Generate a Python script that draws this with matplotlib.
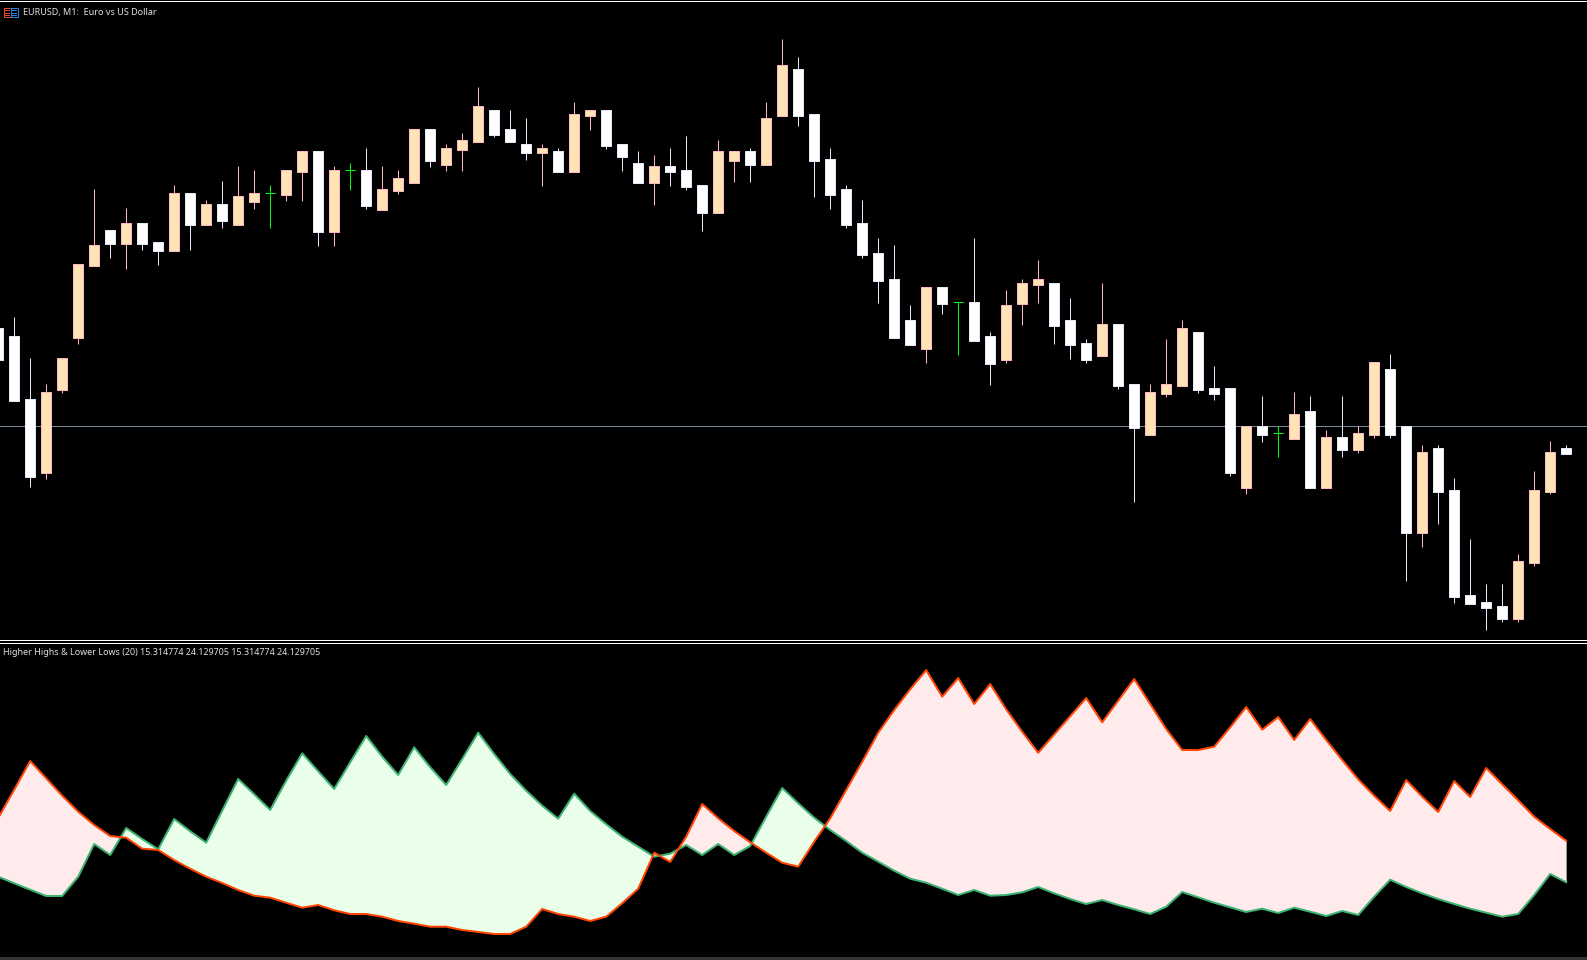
import numpy as np
import matplotlib
matplotlib.use("Agg")
import matplotlib.pyplot as plt
from matplotlib.patches import Rectangle

# candles (price axis has no labels, so units are picture rows)
opens = [328,336,399,473,390,338,266,230,244,223,
         242,251,193,225,204,225,202,193,195,172,
         151,232,170,170,210,191,183,129,165,150,
         142,110,129,144,153,151,172,116,110,144,
         163,183,166,170,185,213,161,151,165,116,
         69,114,159,189,223,253,279,320,349,287,
         302,302,336,360,304,285,283,320,343,356,
         324,384,435,394,386,332,388,388,488,426,
         433,439,411,488,437,450,435,369,426,533,
         448,490,595,602,606,619,563,492,448]
highs = [328,317,358,384,358,264,189,230,208,223,
         242,185,193,200,181,166,170,185,170,151,
         151,166,163,148,166,170,129,129,144,133,
         87,110,110,118,144,148,102,110,110,144,
         151,155,148,136,185,140,151,148,102,39,
         57,114,148,185,200,238,245,305,287,287,
         302,238,332,290,279,260,283,298,339,283,
         324,384,384,339,320,332,366,388,426,396,
         426,392,396,430,396,426,362,354,426,445,
         445,478,539,584,584,554,471,441,445]
lows = [360,401,487,479,393,344,266,258,269,250,
        265,251,250,225,228,225,209,228,201,201,
        246,246,190,209,210,194,183,167,171,171,
        142,137,142,160,186,172,172,130,149,171,
        183,205,186,190,231,213,182,182,165,116,
        126,197,209,228,258,303,338,345,363,314,
        355,341,385,363,325,303,344,359,363,356,
        389,502,435,397,386,393,400,476,494,442,
        457,439,488,488,457,453,438,438,581,547,
        524,603,604,630,622,622,566,494,454]
closes = [360,401,477,392,358,264,245,244,223,244,
          251,193,225,204,221,196,193,193,170,151,
          232,170,170,206,189,178,129,161,148,140,
          106,135,142,153,148,172,114,110,146,157,
          183,166,172,187,213,151,151,165,118,65,
          116,161,195,225,255,281,338,345,287,304,
          302,341,364,305,283,279,326,345,360,324,
          386,428,392,384,328,390,394,473,426,435,
          433,414,488,437,450,433,362,435,533,452,
          492,597,604,608,619,561,490,452,454]

# indicator lines
orange_line = [818,789.7,761,778.3,795.7,811.7,825,836,837.7,848.7,
               850,860,868.7,876.7,883,890,895.7,897.7,902.7,907.7,
               905,910.3,914,914,916.7,921,923.7,926.7,926.7,930,
               932,934,934,926.7,909,914,916.7,921,916.7,903.3,
               888.7,852.7,862,836.7,804,818.3,831,842.3,852.7,862.7,
               866.7,841.7,818.3,790,761.7,732.7,710,689.3,670,696.7,
               678,704,684,709.3,731.7,752.7,734.5,716.2,698,722.3,
               700.7,679,704,729,750,750,746.7,727.3,707,729.7,
               717,740,719,740,760,779.3,795.7,811,780,796.7,
               812,781,797,768,784.3,800.3,816.7,829,840.7]
green_line = [876.7,883.3,889.7,896,896,876.7,844,855,828,839,
              849.3,819,831.3,842.7,810.7,779,794.3,810,780.7,753.3,
              771.3,789,762.3,736,756.7,775,747.3,767.3,785,759,
              732.7,754,774,790.7,805.7,818.7,793.7,811,824.3,836.7,
              846.7,856.7,853.7,845,855,844,855,846,816.7,788,
              803.3,817.7,830,841,852.7,861.7,870.7,878.7,882.7,888.7,
              895,890,895.7,895,892.3,887,893.3,899,904,900,
              905,909.3,914,906.7,892,897.3,902.7,907.3,912,908.7,
              913,907.7,911.7,916,911,915,896.7,879.7,887,893.3,
              899,904,908.7,912.7,916.7,914,895,874,882.3]

current_price = 426
title_main = "EURUSD, M1:  Euro vs US Dollar"
title_ind = "Higher Highs & Lower Lows (20) 15.314774 24.129705 15.314774 24.129705"

W, H = 1587, 960
PX = 72 / 100  # one pixel in points

plt.rcParams['font.family'] = ['Noto Sans', 'DejaVu Sans']
fig = plt.figure(figsize=(W / 100, H / 100), dpi=100, facecolor="black")


def make_axes(top, bottom):
    ax = fig.add_axes([0, 1 - bottom / H, 1, (bottom - top) / H])
    ax.set_facecolor("black")
    ax.set_xlim(1.8 / 16, (W + 1.8) / 16)
    ax.set_ylim(bottom, top)
    ax.axis("off")
    return ax


ax1 = make_axes(2, 640)
ax2 = make_axes(643, 957)

idx = np.arange(len(opens))
o = np.array(opens)
h = np.array(highs)
l = np.array(lows)
c = np.array(closes)

# price line sits behind the candles
ax1.axhline(current_price, color="#778899", lw=PX, zorder=1)

up = c < o  # rows count downwards
down = c > o
doji = c == o

ax1.vlines(idx[up], h[up], l[up], color="#FFB6C1", lw=PX, zorder=2)
ax1.vlines(idx[down], h[down], l[down], color="#E6E6FA", lw=PX, zorder=2)
ax1.vlines(idx[doji], h[doji], l[doji], color="#00FF00", lw=PX, zorder=2)
ax1.hlines(o[doji], idx[doji] - 0.33, idx[doji] + 0.33, color="#00FF00", lw=PX, zorder=2)
ax1.bar(idx[up], (o - c)[up], bottom=c[up], width=0.65, color="#FFE4B5",
        edgecolor="#FFB6C1", lw=PX, zorder=3)
ax1.bar(idx[down], (c - o)[down], bottom=o[down], width=0.65, color="white",
        edgecolor="#E6E6FA", lw=PX, zorder=3)

ora = np.array(orange_line)
gre = np.array(green_line)
ax2.fill_between(idx, ora, gre, where=ora <= gre, interpolate=True, color="#FFEBEB", lw=0, zorder=1)
ax2.fill_between(idx, ora, gre, where=ora >= gre, interpolate=True, color="#EAFFEA", lw=0, zorder=1)
ax2.plot(idx, gre, color="#3CB371", lw=2 * PX, zorder=2)
ax2.plot(idx, ora, color="#FF4500", lw=2 * PX, zorder=3)
ax2.vlines(idx[-1], ora[-1], gre[-1], color="#999999", lw=PX, zorder=2)

# chart window furniture, placed in pixels
fig.add_artist(Rectangle((0, 1 - 2 / H), 1, 1 / H, transform=fig.transFigure, color="white", lw=0))
for y in (640, 642.5):
    fig.add_artist(Rectangle((0, 1 - (y + 1) / H), 1, 1 / H, transform=fig.transFigure, color="white", lw=0))
fig.add_artist(Rectangle((0, 0), 1, 3 / H, transform=fig.transFigure, color="#333333", lw=0))

# little symbol icon in the corner: outline boxes with three bars each
for x0, col in ((3.5, "#E0483A"), (10.5, "#2F7FE0")):
    fig.add_artist(Rectangle((x0 / W, 1 - 17 / H), 7 / W, 9 / H, transform=fig.transFigure,
                             facecolor="black", edgecolor=col, lw=PX))
    for y in (10.5, 13, 15):
        fig.add_artist(Rectangle(((x0 + 1.5) / W, 1 - (y + 0.5) / H), 4.5 / W, 0.8 / H,
                                 transform=fig.transFigure, color=col, lw=0))

fig.text(23 / W, 1 - 13 / H, title_main, color="#E0E0E0", fontsize=6.5, va="center", ha="left")
fig.text(3 / W, 1 - 652.8 / H, title_ind, color="#E0E0E0", fontsize=6.45, va="center", ha="left")

fig.savefig("out.png", dpi=100, facecolor="black")
